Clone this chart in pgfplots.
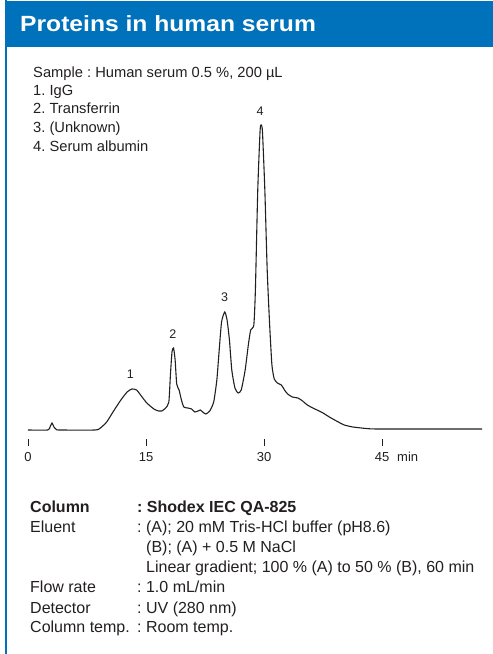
\documentclass[border=0pt]{standalone}
\usepackage{pgfplots}
\pgfplotsset{compat=1.18}
\usepackage{fontspec}
\setmainfont{Liberation Sans}
\newfontfamily\titlefont[FakeStretch=1.12]{Liberation Sans Bold}
\definecolor{sdblue}{RGB}{0,114,188}
\definecolor{ink}{RGB}{35,31,32}
\begin{document}
\frenchspacing
\begin{tikzpicture}[x=1pt,y=1pt]
\path[use as bounding box] (0,0) rectangle (493,654);
\fill[sdblue] (5,653) rectangle (493,607);
\draw[sdblue,line width=1.5pt] (6,654) -- (6,0);
\node[anchor=base west,text=white,inner sep=0pt] at (20,622) {\titlefont\fontsize{22}{24}\selectfont Proteins in human serum};
\begin{scope}[every node/.style={anchor=base west,inner sep=0pt,text=ink,font=\fontsize{14.7}{16}\selectfont}]
\node at (33,654-78) {Sample : Human serum 0.5 \%, 200 µL};
\node at (33,654-96) {1. IgG};
\node at (33,654-114) {2. Transferrin};
\node at (33,654-133) {3. (Unknown)};
\node at (33,654-152) {4. Serum albumin};
\end{scope}
\begin{scope}[every node/.style={anchor=base west,inner sep=0pt,text=ink,font=\fontsize{16}{18}\selectfont}]
\node at (30,654-513) {\bfseries Column};
\node at (137,654-513) {\bfseries : Shodex IEC QA-825};
\node at (30,654-533) {Eluent};
\node at (137,654-533) {: (A); 20 mM Tris-HCl buffer (pH8.6)};
\node at (146,654-553) {(B); (A) + 0.5 M NaCl};
\node at (146,654-573) {Linear gradient; 100 \% (A) to 50 \% (B), 60 min};
\node at (30,654-593) {Flow rate};
\node at (137,654-593) {: 1.0 mL/min};
\node at (30,654-613) {Detector};
\node at (137,654-613) {: UV (280 nm)};
\node at (30,654-633) {Column temp.};
\node at (137,654-633) {: Room temp.};
\end{scope}
\begin{axis}[
  at={(28pt,208pt)}, anchor=south west,
  scale only axis, width=454pt, height=321pt,
  xmin=0, xmax=57.7, ymin=-16, ymax=305,
  clip=false,
  hide y axis,
  axis x line*=bottom,
  x axis line style={draw=none},
  xtick={0,15,30,45},
  tick align=inside,
  major tick length=7pt,
  xtick style={ink,line width=0.9pt},
  /pgf/number format/assume math mode=true,
  xticklabel style={anchor=base,yshift=-16pt,inner sep=0pt,text=ink,font=\fontsize{13}{15}\selectfont},
]
\addplot[ink,line width=1.1pt,smooth,tension=0.35] coordinates {
(0,0) (2.5,0) (2.8,3) (3.05,7) (3.3,3) (3.6,0.5) (4,0) (8.5,0) (9.2,2) (10,8) (10.8,18) (11.8,30) (12.6,38) (13.2,41) (13.8,40) (14.5,33) (15.1,27) (16,21) (16.6,19) (17.0,19) (17.5,22) (17.9,28) (18.1,55) (18.3,78) (18.5,82) (18.7,70) (18.9,46) (19.2,40) (19.5,30) (19.8,23) (20.3,22) (20.8,21) (21.2,18) (21.6,19) (21.9,20) (22.2,18) (22.6,16) (23.1,19) (23.6,28) (24.0,50) (24.3,80) (24.6,108) (25.0,118) (25.3,110) (25.6,90) (25.9,60) (26.3,42) (26.7,37) (27.1,40) (27.6,60) (28.0,85) (28.3,100) (28.7,105) (28.9,140) (29.2,240) (29.5,300) (29.65,305) (29.8,298) (30.1,240) (30.4,160) (30.7,107) (31.0,65) (31.3,51) (31.7,47) (32.2,45) (32.6,40) (33.0,36) (33.6,33) (34.3,32) (34.9,29) (35.5,25) (36.2,22) (37,19) (37.5,17) (38.3,13) (39.2,9) (40.2,5) (41.3,3) (43,1.5) (44.7,1) (57.7,1)
};
\begin{scope}[every node/.style={anchor=base,inner sep=0pt,text=ink,font=\fontsize{12.5}{14}\selectfont}]
\node at (axis cs:13.0,51) {1};
\node at (axis cs:18.4,91) {2};
\node at (axis cs:25.0,128) {3};
\node at (axis cs:29.5,314) {4};
\end{scope}
\node[anchor=base west,inner sep=0pt,text=ink,font=\fontsize{13}{15}\selectfont] at (axis cs:46.9,-32) {min};
\end{axis}
\end{tikzpicture}
\end{document}
